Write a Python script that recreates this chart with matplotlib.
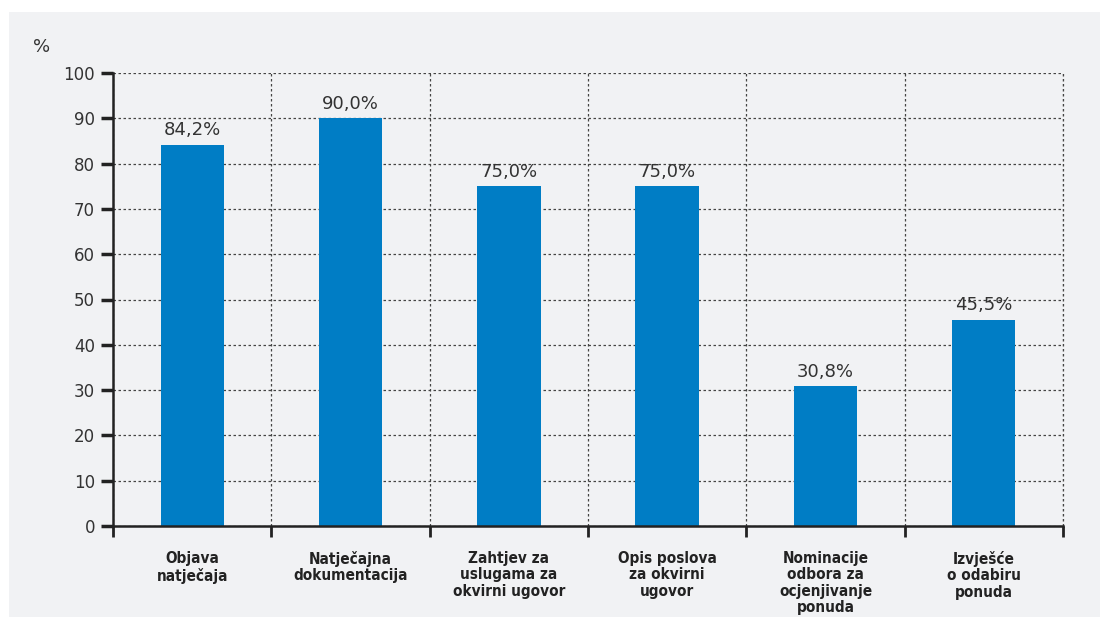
import matplotlib.pyplot as plt
import numpy as np
from matplotlib.patches import Rectangle

categories = ["Objava\nnatječaja", "Natječajna\ndokumentacija", "Zahtjev za\nuslugama za\nokvirni ugovor",
              "Opis poslova\nza okvirni\nugovor", "Nominacije\nodbora za\nocjenjivanje\nponuda",
              "Izvješće\no odabiru\nponuda"]
values = [84.2, 90.0, 75.0, 75.0, 30.8, 45.5]
value_labels = ["84,2%", "90,0%", "75,0%", "75,0%", "30,8%", "45,5%"]
y_ticks = list(range(0, 101, 10))

bar_color = "#007dc5"
panel_color = "#f1f2f4"
text_color = "#333333"

fig = plt.figure(figsize=(11, 6.17), dpi=100, facecolor="white")
fig.patches.append(Rectangle((9 / 1100, 0), 1, 1 - 12 / 617, transform=fig.transFigure,
                             facecolor=panel_color, edgecolor="none", zorder=-10))
ax = fig.add_axes([113 / 1100, 1 - 526 / 617, 950 / 1100, 453 / 617])
ax.set_facecolor("none")

x = np.arange(len(categories))
ax.bar(x, values, width=0.4, color=bar_color, zorder=3)
for xi, v, lab in zip(x, values, value_labels):
    ax.text(xi, v + 1.2, lab, ha="center", va="bottom", fontsize=13, color=text_color, zorder=4)

ax.set_xlim(-0.5, len(categories) - 0.5)
ax.set_ylim(0, 100)

# y axis
ax.set_yticks(y_ticks)
ax.tick_params(axis="y", length=9, width=2.5, color="#222222", labelsize=12, labelcolor=text_color, pad=4)
ax.yaxis.grid(True, linestyle=(0, (2, 2)), color="#444444", linewidth=0.9, zorder=1)

# x axis: labels at centers, ticks + grid at category boundaries
ax.set_xticks(x)
ax.set_xticklabels(categories, fontfamily="DejaVu Sans", fontstretch="condensed", fontweight="bold",
                   fontsize=11, color="#222222", linespacing=1.12, va="top")
ax.tick_params(axis="x", which="major", length=0, pad=18)
bounds = np.arange(-0.5, len(categories), 1.0)
ax.set_xticks(bounds, minor=True)
ax.tick_params(axis="x", which="minor", length=8, width=2, color="#222222")
ax.xaxis.grid(True, which="minor", linestyle=(0, (2, 2)), color="#444444", linewidth=0.9, zorder=1)
ax.axvline(bounds[-1], linestyle=(0, (2, 2)), color="#444444", linewidth=0.9, clip_on=False, zorder=1)

for s in ["top", "right"]:
    ax.spines[s].set_visible(False)
for s in ["left", "bottom"]:
    ax.spines[s].set_linewidth(1.8)
    ax.spines[s].set_color("#222222")
    ax.spines[s].set_zorder(5)

fig.text(33 / 1100, 1 - 47 / 617, "%", fontsize=13, color=text_color, va="center")

fig.savefig("out.png", dpi=100, facecolor="white")
